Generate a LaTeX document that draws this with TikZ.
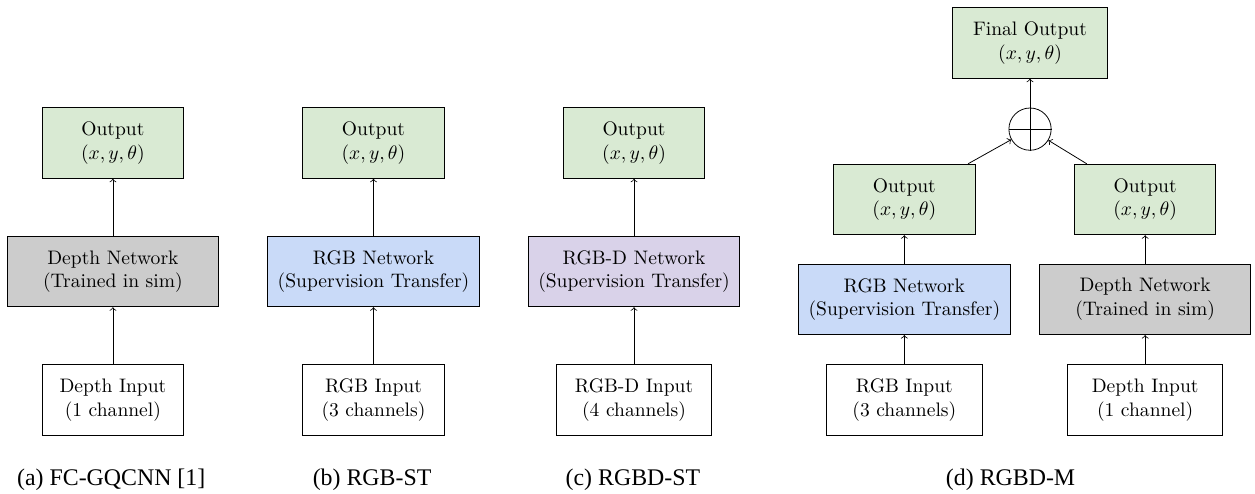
\documentclass[tikz,border=0pt]{standalone}
\usepackage{fontspec}
\newfontfamily\capfont{Liberation Serif}
\definecolor{outgreen}{HTML}{D9EAD3}
\definecolor{rgbblue}{HTML}{C9DAF8}
\definecolor{rgbdpurple}{HTML}{D9D2E9}
\definecolor{simgray}{HTML}{CCCCCC}
\tikzset{
  outbox/.style={draw, fill=outgreen, minimum width=2.54cm, minimum height=1.27cm, align=center},
  netbox/.style={draw, minimum width=3.8cm, minimum height=1.27cm, align=center},
  inbox/.style={draw, fill=white, minimum width=2.54cm, minimum height=1.27cm, align=center},
  subcap/.style={anchor=base, font=\capfont\fontsize{12.2}{14}\selectfont}
}

\begin{document}
\begin{tikzpicture}
\useasboundingbox (0,0) rectangle (22.565,8.882);

\node[outbox] (aout) at (2.03,6.31) {Output\\$(x,y,\theta)$};
\node[netbox, fill=simgray] (anet) at (2.03,4.0) {Depth Network\\(Trained in sim)};
\node[inbox] (ain) at (2.03,1.69) {Depth Input\\(1 channel)};
\draw[->] (ain) -- (anet);
\draw[->] (anet) -- (aout);
\node[subcap] (acap) at (2.0,0.16) {(a) FC-GQCNN [1]};

\node[outbox] (bout) at (6.715,6.31) {Output\\$(x,y,\theta)$};
\node[netbox, fill=rgbblue] (bnet) at (6.715,4.0) {RGB Network\\(Supervision Transfer)};
\node[inbox] (bin) at (6.715,1.69) {RGB Input\\(3 channels)};
\draw[->] (bin) -- (bnet);
\draw[->] (bnet) -- (bout);
\node[subcap] (bcap) at (6.69,0.16) {(b) RGB-ST};

\node[outbox] (cout) at (11.40,6.31) {Output\\$(x,y,\theta)$};
\node[netbox, fill=rgbdpurple] (cnet) at (11.40,4.0) {RGB-D Network\\(Supervision Transfer)};
\node[inbox, minimum width=2.79cm] (cin) at (11.40,1.69) {RGB-D Input\\(4 channels)};
\draw[->] (cin) -- (cnet);
\draw[->] (cnet) -- (cout);
\node[subcap] (ccap) at (11.38,0.16) {(c) RGBD-ST};

\node[outbox, minimum width=2.79cm] (dfinal) at (18.52,8.11) {Final Output\\$(x,y,\theta)$};
\node[draw, circle, minimum size=0.76cm, inner sep=0pt] (plus) at (18.52,6.56) {};
\draw (plus.north) -- (plus.south) (plus.west) -- (plus.east);
\node[outbox] (dlout) at (16.26,5.295) {Output\\$(x,y,\theta)$};
\node[outbox] (drout) at (20.59,5.295) {Output\\$(x,y,\theta)$};
\node[netbox, fill=rgbblue] (dlnet) at (16.26,3.50) {RGB Network\\(Supervision Transfer)};
\node[netbox, fill=simgray] (drnet) at (20.59,3.50) {Depth Network\\(Trained in sim)};
\node[inbox, minimum width=2.79cm] (dlin) at (16.26,1.69) {RGB Input\\(3 channels)};
\node[inbox, minimum width=2.79cm] (drin) at (20.59,1.69) {Depth Input\\(1 channel)};
\draw[->] (dlin) -- (dlnet);
\draw[->] (dlnet) -- (dlout);
\draw[->] (drin) -- (drnet);
\draw[->] (drnet) -- (drout);
\draw[->] (dlout) -- (plus);
\draw[->] (drout) -- (plus);
\draw[->] (plus) -- (dfinal);
\node[subcap] (dcap) at (18.17,0.16) {(d) RGBD-M};
\end{tikzpicture}
\end{document}
